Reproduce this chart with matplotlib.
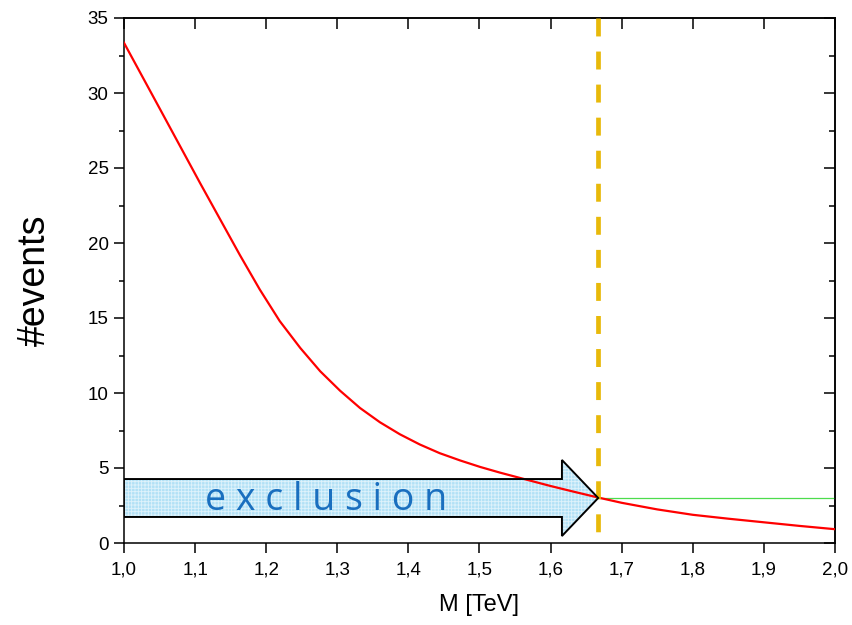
import numpy as np
import matplotlib
matplotlib.use('Agg')
import matplotlib.pyplot as plt
from matplotlib.patches import FancyArrow
from matplotlib.ticker import MultipleLocator, FuncFormatter

# --- FONT SETTINGS ---
plt.rcParams.update({
    'font.family': ['Liberation Sans', 'DejaVu Sans'],
    'font.size': 13.5,
    'hatch.linewidth': 0.6,
})

# --- DATA ---
mass = [1.000, 1.051, 1.079, 1.107, 1.135, 1.163, 1.191, 1.219, 1.248, 1.276,
        1.304, 1.332, 1.360, 1.388, 1.416, 1.444, 1.473, 1.501, 1.529, 1.560,
        1.600, 1.630, 1.667, 1.700, 1.750, 1.800, 1.850, 1.900, 1.950, 2.000]
events = [33.35, 28.9, 26.45, 24.0, 21.6, 19.2, 16.9, 14.8, 13.0, 11.45,
          10.15, 9.0, 8.05, 7.25, 6.57, 5.99, 5.5, 5.07, 4.69, 4.3,
          3.8, 3.45, 3.03, 2.68, 2.24, 1.88, 1.62, 1.38, 1.14, 0.92]
limit_events = 3.0      # horizontal exclusion level
mass_limit = 1.667      # mass where the curve crosses the limit
x_range = (1.0, 2.0)
y_range = (0, 35)

fig = plt.figure(figsize=(8.52, 6.25), dpi=100)
ax = fig.add_axes([0.1455, 0.1312, 0.8345, 0.84])

# limit line and the event curve
ax.plot(x_range, [limit_events, limit_events], color='#4ddc4d', linewidth=0.9, zorder=2)
ax.plot(mass, events, color='#ff0000', linewidth=1.6, zorder=4)

# exclusion arrow: filled layer with fine pattern, then outline
arrow_kw = dict(x=x_range[0], y=limit_events, dx=mass_limit - x_range[0], dy=0,
                width=2.53, head_width=5.07, head_length=0.051,
                length_includes_head=True)
ax.add_patch(FancyArrow(**arrow_kw, facecolor='#aee0f6', edgecolor='#e2f4fc',
                        hatch='+++++', linewidth=0, zorder=3, alpha=0.95))
ax.add_patch(FancyArrow(**arrow_kw, facecolor='none', edgecolor='black',
                        linewidth=1.4, zorder=5))
ax.text(1.114, 2.2, 'e x c l u s i o n', family=['Open Sans', 'DejaVu Sans'],
        fontsize=27, color='#1a6fbf', ha='left', va='baseline', zorder=6)

# dashed vertical line at the mass limit, drawn from the top down
ax.plot([mass_limit, mass_limit], [y_range[1], y_range[0]], color='#e8b90a',
        linewidth=3.4, linestyle=(0, (3.8, 3.2)), zorder=4, clip_on=False)

ax.set_xlim(*x_range)
ax.set_ylim(*y_range)

comma = FuncFormatter(lambda v, pos: f'{v:.1f}'.replace('.', ','))
ax.xaxis.set_major_locator(MultipleLocator(0.1))
ax.xaxis.set_major_formatter(comma)
ax.yaxis.set_major_locator(MultipleLocator(5))
ax.yaxis.set_minor_locator(MultipleLocator(2.5))

for s in ax.spines.values():
    s.set_linewidth(1.1)
ax.tick_params(which='major', direction='out', length=7, width=1.1)
ax.tick_params(axis='x', pad=6.5)
ax.tick_params(axis='y', pad=4)
ax.tick_params(which='minor', direction='out', length=3.5, width=1.1)
ax.tick_params(top=False, right=False, which='both')

# top and right: inward ticks, no labels
top = ax.secondary_xaxis('top')
top.xaxis.set_major_locator(MultipleLocator(0.1))
top.tick_params(direction='in', length=8, width=1.1, labeltop=False)
right = ax.secondary_yaxis('right')
right.yaxis.set_major_locator(MultipleLocator(5))
right.yaxis.set_minor_locator(MultipleLocator(2.5))
right.tick_params(which='major', direction='in', length=8, width=1.1, labelright=False)
right.tick_params(which='minor', direction='in', length=4, width=1.1)
for sec in (top, right):
    for s in sec.spines.values():
        s.set_linewidth(1.1)

ax.set_xlabel('M [TeV]', fontsize=17, labelpad=11)
ax.set_ylabel('#events', fontsize=27, labelpad=25)

plt.savefig('out.png', dpi=100)
